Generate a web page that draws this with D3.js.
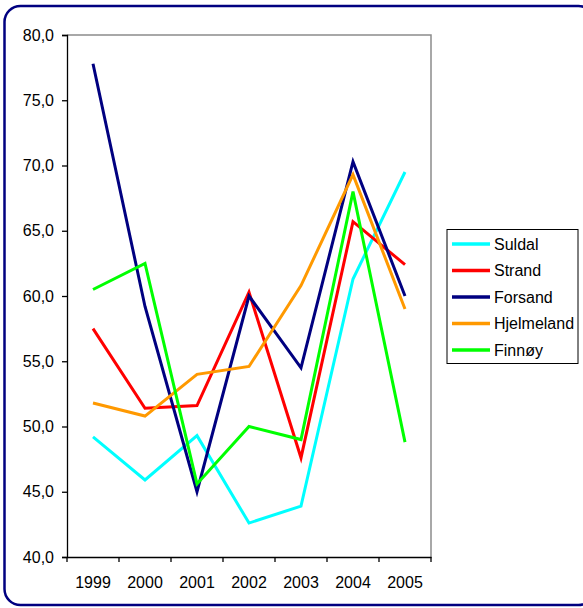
<!DOCTYPE html>
<html>
<head>
<meta charset="utf-8">
<script src="https://cdn.jsdelivr.net/npm/d3@7"></script>
<style>
  body { margin: 0; background: #fff; }
  svg { display: block; font-family: "Liberation Sans", Arial, sans-serif; }
</style>
</head>
<body>
<svg width="583" height="608"></svg>
<script>
const years = ['1999', '2000', '2001', '2002', '2003', '2004', '2005'];
const names = ['Suldal', 'Strand', 'Forsand', 'Hjelmeland', 'Finnøy'];
const colors = ['#00ffff', '#ff0000', '#000080', '#ff9900', '#00ff00'];
const suldal = [49.2, 45.9, 49.3, 42.6, 43.9, 61.3, 69.5];
const strand = [57.5, 51.4, 51.6, 60.3, 47.6, 65.7, 62.4];
const forsand = [77.8, 59.2, 45.0, 60.0, 54.5, 70.3, 60.0];
const hjelmeland = [51.8, 50.8, 54.0, 54.6, 60.8, 69.3, 59.0];
const finnoy = [60.5, 62.5, 45.6, 50.0, 49.0, 68.0, 48.8];
const yTicks = [40, 45, 50, 55, 60, 65, 70, 75, 80];

const series = [suldal, strand, forsand, hjelmeland, finnoy];
const FONT = '"Liberation Sans", Arial, sans-serif';

const svg = d3.select('svg');

// outer rounded frame
svg.append('rect')
    .attr('x', 4.5).attr('y', 6)
    .attr('width', 590).attr('height', 599)
    .attr('rx', 16)
    .attr('fill', 'white')
    .attr('stroke', '#000080')
    .attr('stroke-width', 2.5);

const plotL = 67, plotR = 431, plotT = 35, plotB = 557;

const x = d3.scaleBand().domain(years).range([plotL, plotR]);
const y = d3.scaleLinear().domain([40, 80]).range([plotB, plotT]);

// plot area border (gray top/right)
svg.append('path')
    .attr('d', `M${plotL},${plotT}H${plotR}V${plotB}`)
    .attr('fill', 'none')
    .attr('stroke', '#8c8c8c')
    .attr('stroke-width', 1.5);

// y axis
const yAxis = svg.append('g')
    .attr('transform', `translate(${plotL},0)`)
    .call(d3.axisLeft(y).tickValues(yTicks).tickSize(5).tickPadding(8)
        .tickFormat(d => d3.format('.1f')(d).replace('.', ',')));
yAxis.attr('font-family', FONT).attr('font-size', 16);
yAxis.selectAll('text').attr('fill', '#000');
yAxis.selectAll('line, path').attr('stroke', '#000').attr('stroke-width', 1.3);

// x axis
const xAxis = svg.append('g')
    .attr('transform', `translate(0,${plotB})`)
    .call(d3.axisBottom(x).tickSize(0).tickPadding(20).tickSizeOuter(0));
xAxis.attr('font-family', FONT).attr('font-size', 16);
xAxis.selectAll('text').attr('fill', '#000');
xAxis.select('.domain').attr('stroke', '#000').attr('stroke-width', 1.3);
xAxis.selectAll('.edge')
    .data(years.map(d => x(d)).concat([plotR]))
    .join('line')
    .attr('class', 'edge')
    .attr('x1', d => d).attr('x2', d => d)
    .attr('y1', 0).attr('y2', 5)
    .attr('stroke', '#000')
    .attr('stroke-width', 1.3);

// lines
const line = d3.line()
    .x((d, i) => x(years[i]) + x.bandwidth() / 2)
    .y(d => y(d));

svg.append('g').selectAll('path')
    .data(series)
    .join('path')
    .attr('d', d => line(d))
    .attr('fill', 'none')
    .attr('stroke', (d, i) => colors[i])
    .attr('stroke-width', 3)
    .attr('stroke-linejoin', 'miter');

// legend
const legend = svg.append('g').attr('font-family', FONT).attr('font-size', 16);
legend.append('rect')
    .attr('x', 447).attr('y', 229.5)
    .attr('width', 131).attr('height', 134)
    .attr('fill', 'white')
    .attr('stroke', '#000')
    .attr('stroke-width', 1);

const items = legend.selectAll('g.item')
    .data(names)
    .join('g')
    .attr('class', 'item')
    .attr('transform', (d, i) => `translate(0,${244 + i * 26.5})`);
items.append('line')
    .attr('x1', 452).attr('x2', 490)
    .attr('stroke', (d, i) => colors[i])
    .attr('stroke-width', 3.5);
items.append('text')
    .attr('x', 494)
    .attr('dy', '0.36em')
    .attr('fill', '#000')
    .text(d => d);
</script>
</body>
</html>
